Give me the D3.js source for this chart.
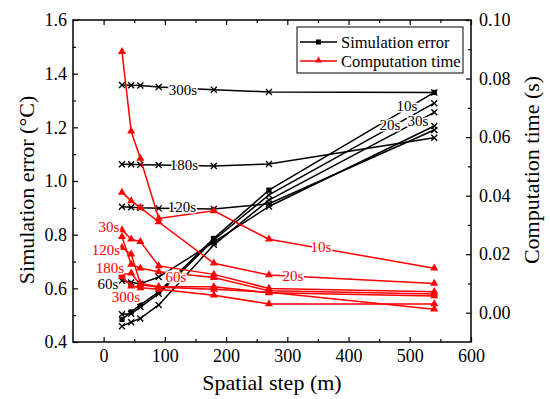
<!DOCTYPE html>
<html><head><meta charset="utf-8">
<script src="https://cdn.jsdelivr.net/npm/d3@7"></script>
<style>body{margin:0;background:#fff}svg, svg text{font-family:"Liberation Serif","Times New Roman",Times,"DejaVu Serif",serif !important}</style>
</head><body><svg id="c" width="550" height="399"></svg>
<script>
// Data
const steps = [30, 45, 60, 90, 180, 270, 540];
const timeSteps = ["10s", "20s", "30s", "60s", "120s", "180s", "300s"];
const err10 = [0.484, 0.512, 0.538, 0.587, 0.786, 0.966, 1.330];
const err20 = [0.503, 0.505, 0.530, 0.580, 0.780, 0.948, 1.290];
const err30 = [0.459, 0.474, 0.488, 0.538, 0.762, 0.929, 1.256];
const err60 = [0.628, 0.622, 0.617, 0.642, 0.772, 0.905, 1.205];
const err120 = [0.904, 0.902, 0.900, 0.898, 0.896, 0.915, 1.190];
const err180 = [1.062, 1.062, 1.061, 1.060, 1.056, 1.063, 1.161];
const err300 = [1.358, 1.357, 1.356, 1.350, 1.340, 1.332, 1.330];
const time10 = [0.0892, 0.0620, 0.0527, 0.0322, 0.0348, 0.0251, 0.0152];
const time20 = [0.0411, 0.0382, 0.0359, 0.0310, 0.0169, 0.0129, 0.0100];
const time30 = [0.0283, 0.0251, 0.0243, 0.0160, 0.0131, 0.0083, 0.0072];
const time60 = [0.0260, 0.0165, 0.0152, 0.0140, 0.0120, 0.0075, 0.0064];
const time120 = [0.0222, 0.0200, 0.0100, 0.0089, 0.0089, 0.0068, 0.0057];
const time180 = [0.0131, 0.0135, 0.0095, 0.0087, 0.0080, 0.0070, 0.0012];
const time300 = [0.0123, 0.0091, 0.0085, 0.0080, 0.0060, 0.0030, 0.0030];
const xTicks = [0, 100, 200, 300, 400, 500, 600];
const yLeftTicks = [0.4, 0.6, 0.8, 1.0, 1.2, 1.4, 1.6];
const yRightTicks = [0.00, 0.02, 0.04, 0.06, 0.08, 0.10];
const legendLabels = ["Simulation error", "Computation time"];

const errSeries = [err10, err20, err30, err60, err120, err180, err300];
const timeSeries = [time10, time20, time30, time60, time120, time180, time300];

const FONT = '"Liberation Serif","Times New Roman",Times,"DejaVu Serif",serif';
const svg = d3.select("#c").attr("font-family", FONT);
const L = 73, R = 471, T = 20, B = 342;
const x = d3.scaleLinear().domain([-50, 600]).range([L, R]);
const yL = d3.scaleLinear().domain([0.4, 1.6]).range([B, T]);
const yR = d3.scaleLinear().domain([-0.01, 0.10]).range([B, T]);

// Axes
function styleAxis(g, fs) {
  g.attr("font-family", FONT);
  g.select(".domain").remove();
  g.selectAll("line").attr("stroke", "#000").attr("stroke-width", 1.2);
  g.selectAll("text").attr("font-size", fs).attr("fill", "#000").attr("font-family", FONT);
}
const gx = svg.append("g").attr("transform", `translate(0,${B})`)
  .call(d3.axisBottom(x).tickValues(xTicks).tickSize(-5).tickPadding(7).tickFormat(d3.format("d")));
styleAxis(gx, 18);
svg.append("g").attr("transform", `translate(0,${B})`)
  .call(d3.axisBottom(x).tickValues(d3.range(50, 600, 100)).tickSize(-3).tickFormat(""))
  .call(g => styleAxis(g, 18));
svg.append("g").attr("transform", `translate(0,${T})`)
  .call(d3.axisTop(x).tickValues(xTicks).tickSize(-5).tickFormat(""))
  .call(g => styleAxis(g, 18));
svg.append("g").attr("transform", `translate(0,${T})`)
  .call(d3.axisTop(x).tickValues(d3.range(50, 600, 100)).tickSize(-3).tickFormat(""))
  .call(g => styleAxis(g, 18));
const gl = svg.append("g").attr("transform", `translate(${L},0)`)
  .call(d3.axisLeft(yL).tickValues(yLeftTicks).tickSize(-5).tickPadding(6).tickFormat(d3.format(".1f")));
styleAxis(gl, 18);
svg.append("g").attr("transform", `translate(${L},0)`)
  .call(d3.axisLeft(yL).tickValues([0.5, 0.7, 0.9, 1.1, 1.3, 1.5]).tickSize(-3).tickFormat(""))
  .call(g => styleAxis(g, 18));
const gr = svg.append("g").attr("transform", `translate(${R},0)`)
  .call(d3.axisRight(yR).tickValues(yRightTicks).tickSize(-5).tickPadding(8).tickFormat(d3.format(".2f")));
styleAxis(gr, 18);
svg.append("g").attr("transform", `translate(${R},0)`)
  .call(d3.axisRight(yR).tickValues([0.01, 0.03, 0.05, 0.07, 0.09]).tickSize(-3).tickFormat(""))
  .call(g => styleAxis(g, 18));

// Frame
svg.append("rect").attr("x", L).attr("y", T).attr("width", R - L).attr("height", B - T)
  .attr("fill", "none").attr("stroke", "#000").attr("stroke-width", 1.5);

// Axis titles
svg.append("text").attr("x", (L + R) / 2).attr("y", 390).attr("text-anchor", "middle")
  .attr("font-size", 22).text("Spatial step (m)");
svg.append("text").attr("transform", "translate(34,190) rotate(-90)").attr("text-anchor", "middle")
  .attr("font-size", 22).text("Simulation error (°C)");
svg.append("text").attr("transform", "translate(539,170) rotate(-90)").attr("text-anchor", "middle")
  .attr("font-size", 22).text("Computation time (s)");

const lineL = d3.line().x((d, i) => x(steps[i])).y(d => yL(d));
const lineR = d3.line().x((d, i) => x(steps[i])).y(d => yR(d));
const cross = "M-3,-3L3,3M-3,3L3,-3";
const tri = d3.symbol().type(d3.symbolTriangle).size(28);

// Black series
errSeries.forEach((s, k) => {
  svg.append("path").attr("d", lineL(s)).attr("fill", "none").attr("stroke", "#000").attr("stroke-width", 1.5);
  const g = svg.append("g");
  s.forEach((v, i) => {
    if (k === 0) {
      g.append("rect").attr("x", x(steps[i]) - 2.6).attr("y", yL(v) - 2.6).attr("width", 5.2).attr("height", 5.2).attr("fill", "#000");
    } else {
      g.append("path").attr("d", cross).attr("transform", `translate(${x(steps[i])},${yL(v)})`)
        .attr("stroke", "#000").attr("stroke-width", 1.4).attr("fill", "none");
    }
  });
});

// Red series
timeSeries.forEach(s => {
  svg.append("path").attr("d", lineR(s)).attr("fill", "none").attr("stroke", "#ff0000").attr("stroke-width", 1.5);
  s.forEach((v, i) => {
    svg.append("path").attr("d", tri).attr("transform", `translate(${x(steps[i])},${yR(v)})`).attr("fill", "#ff0000");
  });
});

// Inline labels
function lab(t, cx, cy, col) {
  svg.append("text").attr("x", cx).attr("y", cy + 5).attr("text-anchor", "middle")
    .attr("font-size", 15).attr("fill", col).attr("stroke", "#fff").attr("stroke-width", 3)
    .attr("paint-order", "stroke").text(t);
}
const blackLabelPos = [[407, 106], [390, 125], [418, 121], [108, 284], [182, 207], [184, 165], [183, 90]];
timeSteps.forEach((t, k) => lab(t, blackLabelPos[k][0], blackLabelPos[k][1], "#000"));
const redLabelPos = [[321, 247], [293, 276], [109, 227], [176, 277], [106, 250], [110, 268], [126, 297]];
timeSteps.forEach((t, k) => lab(t, redLabelPos[k][0], redLabelPos[k][1], "#ff0000"));

// Legend
const lg = svg.append("g");
lg.append("rect").attr("x", 297).attr("y", 27).attr("width", 166).attr("height", 46)
  .attr("fill", "#fff").attr("stroke", "#000").attr("stroke-width", 1);
[["#000", 42], ["#ff0000", 61]].forEach(([c, yy], i) => {
  lg.append("line").attr("x1", 300).attr("x2", 337).attr("y1", yy).attr("y2", yy).attr("stroke", c).attr("stroke-width", 1.5);
  if (i === 0) lg.append("rect").attr("x", 316).attr("y", yy - 2.5).attr("width", 5).attr("height", 5).attr("fill", c);
  else lg.append("path").attr("d", d3.symbol().type(d3.symbolTriangle).size(20)).attr("transform", `translate(318.5,${yy - 0.5})`).attr("fill", c);
  lg.append("text").attr("x", 341).attr("y", yy + 5.5).attr("font-size", 16.5).text(legendLabels[i]);
});
</script></body></html>
